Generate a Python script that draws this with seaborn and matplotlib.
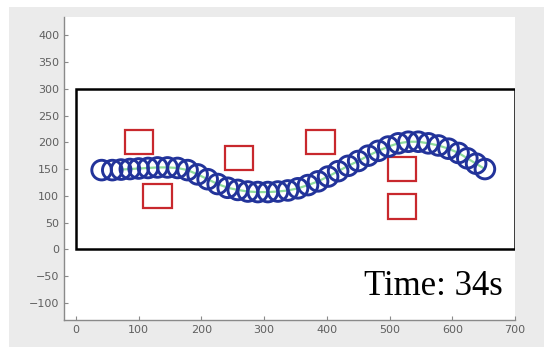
import matplotlib
matplotlib.use("Agg")
import matplotlib.pyplot as plt
from matplotlib.patches import Rectangle
import seaborn as sns
import pandas as pd

# robot trajectory (circle centres)
path_x = [41, 58, 72, 86, 100, 115, 130, 146, 162, 178, 194, 210, 226, 242, 258,
          274, 290, 306, 322, 338, 354, 370, 386, 402, 418, 434, 450, 466, 482,
          498, 514, 530, 546, 562, 578, 594, 610, 624, 638, 652]
path_y = [148, 148, 149, 150, 151, 152, 153, 153, 152, 148, 140, 131, 122, 115, 111,
          108, 107, 107, 108, 110, 114, 120, 127, 136, 146, 156, 165, 175, 184,
          192, 198, 201, 201, 198, 194, 188, 180, 170, 160, 150]

# obstacles (square centres)
obs_x = [100, 130, 260, 390, 520, 520]
obs_y = [200, 100, 170, 200, 150, 80]
obs_size = 45

# arena
arena_x0, arena_y0, arena_w, arena_h = 0, 0, 700, 300

x_ticks = [0, 100, 200, 300, 400, 500, 600, 700]
y_ticks = [-100, -50, 0, 50, 100, 150, 200, 250, 300, 350, 400]
label_text = "Time: 34s"

sns.set_style("white")
plt.rcParams['font.family'] = ['DejaVu Sans']

fig = plt.figure(figsize=(5.44, 3.47), dpi=100, facecolor="white")
fig.patches.append(Rectangle((9 / 544, 0), 1, 1 - 7 / 347, transform=fig.transFigure,
                             facecolor="#ebebeb", edgecolor="none", zorder=-10))
ax = fig.add_axes([64 / 544, 1 - 320 / 347, (515 - 64) / 544, (320 - 17) / 347])
ax.set_facecolor("white")

df = pd.DataFrame({"x": path_x, "y": path_y})

ax.add_patch(Rectangle((arena_x0, arena_y0), arena_w, arena_h, fill=False,
                       edgecolor="black", linewidth=1.8, zorder=2))

for ox, oy in zip(obs_x, obs_y):
    ax.add_patch(Rectangle((ox - obs_size / 2, oy - obs_size / 2), obs_size, obs_size,
                           fill=False, edgecolor="#c8282d", linewidth=1.6, zorder=3))

sns.lineplot(data=df.iloc[2:], x="x", y="y", sort=False, color="#8fdc9c",
             linewidth=1.6, ax=ax, zorder=3)
sns.scatterplot(data=df, x="x", y="y", marker="o", s=200, facecolors="none",
                edgecolor="#22339a", linewidth=2.1, ax=ax, zorder=4)

ax.text(680, -85, label_text, ha="right", va="baseline",
        family=["Liberation Serif"], fontsize=25, color="black")

ax.set_xlim(-19, 700)
ax.set_ylim(-132, 434)
ax.set_xticks(x_ticks)
ax.set_yticks(y_ticks)
ax.set_xlabel("")
ax.set_ylabel("")
for s in ["top", "right"]:
    ax.spines[s].set_visible(False)
for s in ["left", "bottom"]:
    ax.spines[s].set_color("#8a8a8a")
    ax.spines[s].set_linewidth(1.0)
ax.tick_params(direction="in", length=3, width=0.8, color="#8a8a8a",
               labelcolor="#5f5f5f", labelsize=8, left=True, bottom=True)

fig.savefig("out.png", dpi=100, facecolor=fig.get_facecolor())
